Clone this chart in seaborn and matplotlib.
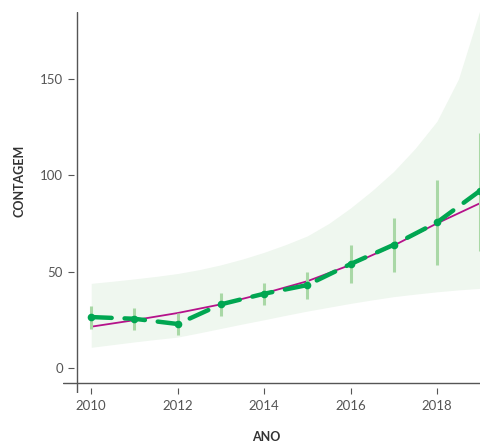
import matplotlib
matplotlib.use("Agg")
import matplotlib.pyplot as plt
import seaborn as sns
import pandas as pd


# --------------------------------------------------
# Data
# --------------------------------------------------

years = [2010, 2011, 2012, 2013, 2014, 2015, 2016, 2017, 2018, 2019]
counts = [26.4, 25.5, 22.8, 33.0, 38.5, 43.0, 53.9, 63.9, 75.5, 92.0]
err_low = [20.2, 19.7, 17.1, 27.1, 32.6, 35.8, 43.9, 49.9, 53.4, 60.6]
err_high = [32.3, 31.2, 28.3, 38.7, 44.0, 49.9, 63.7, 78.0, 97.4, 121.8]

fit_values = [21.4, 24.8, 28.5, 33.0, 38.7, 45.0, 53.5, 63.5, 75.0, 85.5]

band_years = [2010, 2010.5, 2011, 2011.5, 2012, 2012.5, 2013, 2013.5, 2014, 2014.5,
              2015, 2015.5, 2016, 2016.5, 2017, 2017.5, 2018, 2018.5, 2019]
band_low = [10.7, 12.1, 13.5, 14.8, 16.0, 18.2, 20.5, 22.8, 25.0, 27.3,
            29.5, 31.5, 33.5, 35.3, 37.0, 38.3, 39.5, 40.5, 41.3]
band_high = [43.9, 45.0, 46.2, 47.5, 49.0, 51.0, 53.5, 56.5, 60.0, 64.0,
             68.5, 75.0, 83.0, 92.0, 102.0, 114.0, 128.0, 150.0, 186.0]

x_ticks = [2010, 2012, 2014, 2016, 2018]
y_ticks = [0, 50, 100, 150]

GREEN = "#00a651"
LIGHT_GREEN = "#a9d8a6"
BAND = "#eff7ef"
MAGENTA = "#b5128a"
AXIS = "#555555"

df = pd.DataFrame({
    "ano": years,
    "contagem": counts,
    "fit": fit_values,
})

sns.set_style("white")
plt.rcParams["font.family"] = ["Lato", "DejaVu Sans"]

fig = plt.figure(figsize=(4.81, 4.43), dpi=100)
ax = fig.add_axes([0.1304, 0.1129, 0.8696, 0.8600])

# confidence band
ax.fill_between(band_years, band_low, band_high, color=BAND, linewidth=0, zorder=1)

# fitted curve
sns.lineplot(data=df, x="ano", y="fit", color=MAGENTA, linewidth=1.3, ax=ax, zorder=2)

# error bars
ax.vlines(years, err_low, err_high, color=LIGHT_GREEN, linewidth=2.2, zorder=3)

# observed counts
sns.lineplot(
    data=df,
    x="ano",
    y="contagem",
    color=GREEN,
    linewidth=3.2,
    linestyle=(0, (4.6, 2.9)),
    marker="o",
    markersize=5.5,
    markeredgewidth=0,
    ax=ax,
    zorder=4,
)
for line in ax.get_lines():
    line.set_dash_capstyle("round")

ax.set_xlim(2009.34, 2019.02)
ax.set_ylim(-13, 184.7)

# visible axis lines; the real spines are hidden and moved out a little
# so the tick marks sit slightly apart from the axis lines
ax.axvline(2009.66, color=AXIS, linewidth=1.0, zorder=5)
ax.axhline(-8, color=AXIS, linewidth=1.0, zorder=5)

for side in ["top", "right", "left", "bottom"]:
    ax.spines[side].set_color("none")
ax.spines["left"].set_position(("data", 2009.61))
ax.spines["bottom"].set_position(("data", -10.6))

ax.set_xticks(x_ticks)
ax.set_yticks(y_ticks)
ax.tick_params(
    axis="both",
    bottom=True,
    left=True,
    direction="out",
    length=4.6,
    width=0.8,
    color=AXIS,
    labelcolor=AXIS,
    labelsize=9.5,
)
ax.tick_params(axis="x", pad=4)
ax.tick_params(axis="y", pad=3.6)

ax.set_xlabel("ANO", fontsize=9, fontweight="bold", color="#333333")
ax.set_ylabel("CONTAGEM", fontsize=9, fontweight="bold", color="#333333")
ax.xaxis.set_label_coords(0.486, -0.100)
ax.yaxis.set_label_coords(-0.090, 0.556)

ax.grid(False)

fig.savefig("out.png", dpi=100)
plt.close(fig)
